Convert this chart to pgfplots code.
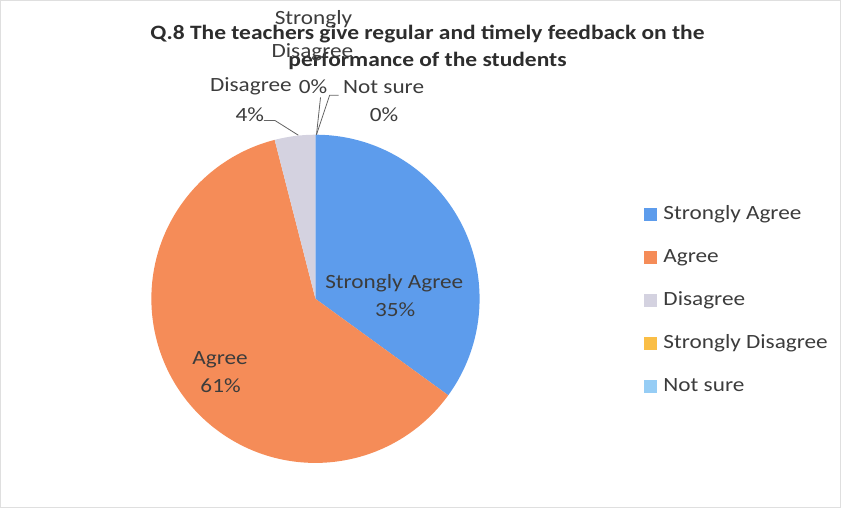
\documentclass[border=0pt]{standalone}
\usepackage{pgfplots}
\usepackage{pgfplotstable}
\pgfplotsset{compat=1.18}
\usepackage{fontspec}
\setmainfont{Carlito}[FakeStretch=1.15]
\definecolor{pieA}{RGB}{93,156,236}
\definecolor{pieB}{RGB}{245,140,88}
\definecolor{pieC}{RGB}{212,210,224}
\definecolor{pieD}{RGB}{250,190,70}
\definecolor{pieE}{RGB}{150,205,245}
\definecolor{labtxt}{RGB}{60,60,60}
\definecolor{titletxt}{RGB}{45,45,45}
\definecolor{leader}{RGB}{100,100,100}
\pgfplotstableread{
label value
StronglyAgree 35
Agree 61
Disagree 4
StronglyDisagree 0
NotSure 0
}\piedata
\pgfplotsset{pieleg/.style={legend image code/.code={\fill[#1] (0pt,-6pt) rectangle (12pt,6pt);}}}
\newcommand\lab{\fontsize{20}{23}\selectfont\color{labtxt}}
\newcommand\ttl{\fontsize{20.2}{24}\selectfont\bfseries\color{titletxt}}
\begin{document}
\begin{tikzpicture}
\pgfplotstablegetelem{0}{value}\of\piedata \pgfmathsetmacro\vA{\pgfplotsretval}
\pgfplotstablegetelem{1}{value}\of\piedata \pgfmathsetmacro\vB{\pgfplotsretval}
\pgfplotstablegetelem{2}{value}\of\piedata \pgfmathsetmacro\vC{\pgfplotsretval}
\pgfmathsetmacro\angA{90}
\pgfmathsetmacro\angB{\angA-3.6*\vA}
\pgfmathsetmacro\angC{\angB-3.6*\vB}
\pgfmathsetmacro\angD{\angC-3.6*\vC}
\begin{axis}[x=1pt,y=1pt,xmin=0,xmax=841,ymin=0,ymax=513,hide axis,clip=false,
  legend cell align=left,
  legend style={at={(axis cs:643,305.5)},anchor=north west,draw=none,fill=none,inner sep=0pt,
    font=\fontsize{20}{24}\selectfont\color{labtxt},
    nodes={inner sep=0pt,text height=14pt,text depth=4pt},
    row sep=24.6pt,column sep=7pt}]
\addlegendimage{pieleg=pieA}\addlegendentry{Strongly Agree}
\addlegendimage{pieleg=pieB}\addlegendentry{Agree}
\addlegendimage{pieleg=pieC}\addlegendentry{Disagree}
\addlegendimage{pieleg=pieD}\addlegendentry{Strongly Disagree}
\addlegendimage{pieleg=pieE}\addlegendentry{Not sure}
% frame
\draw[gray!25,line width=0.8pt] (axis cs:6,6) rectangle (axis cs:838,508);
% slices
\fill[pieA] (axis cs:318,212.5) -- ++(\angA:162.5pt) arc[start angle=\angA,end angle=\angB,radius=162.5pt] -- cycle;
\fill[pieB] (axis cs:318,212.5) -- ++(\angB:162.5pt) arc[start angle=\angB,end angle=\angC,radius=162.5pt] -- cycle;
\fill[pieC] (axis cs:318,212.5) -- ++(\angC:162.5pt) arc[start angle=\angC,end angle=\angD,radius=162.5pt] -- cycle;
% leader lines
\draw[leader,line width=0.8pt] (axis cs:267,389) -- (axis cs:278,389) -- (axis cs:301,374.5);
\draw[leader,line width=0.8pt] (axis cs:319,375) -- (axis cs:323,412);
\draw[leader,line width=0.8pt] (axis cs:319,375) -- (axis cs:332,414) -- (axis cs:341,414);
% title
\node[anchor=base] at (axis cs:429,469) {\ttl Q.8 The teachers give regular and timely feedback on the};
\node[anchor=base] at (axis cs:429,443) {\ttl performance of the students};
% data labels
\node[anchor=base] at (axis cs:396,222.3) {\lab Strongly Agree};
\node[anchor=base] at (axis cs:397,195) {\lab 35\%};
\node[anchor=base] at (axis cs:223.5,147) {\lab Agree};
\node[anchor=base] at (axis cs:224,120) {\lab 61\%};
\node[anchor=base] at (axis cs:254,418) {\lab Disagree};
\node[anchor=base] at (axis cs:253,388) {\lab 4\%};
\node[anchor=base] at (axis cs:316,484) {\lab Strongly};
\node[anchor=base] at (axis cs:315,451) {\lab Disagree};
\node[anchor=base] at (axis cs:315.5,416) {\lab 0\%};
\node[anchor=base] at (axis cs:385.5,416) {\lab Not sure};
\node[anchor=base] at (axis cs:386,388) {\lab 0\%};
\end{axis}
\end{tikzpicture}
\end{document}
